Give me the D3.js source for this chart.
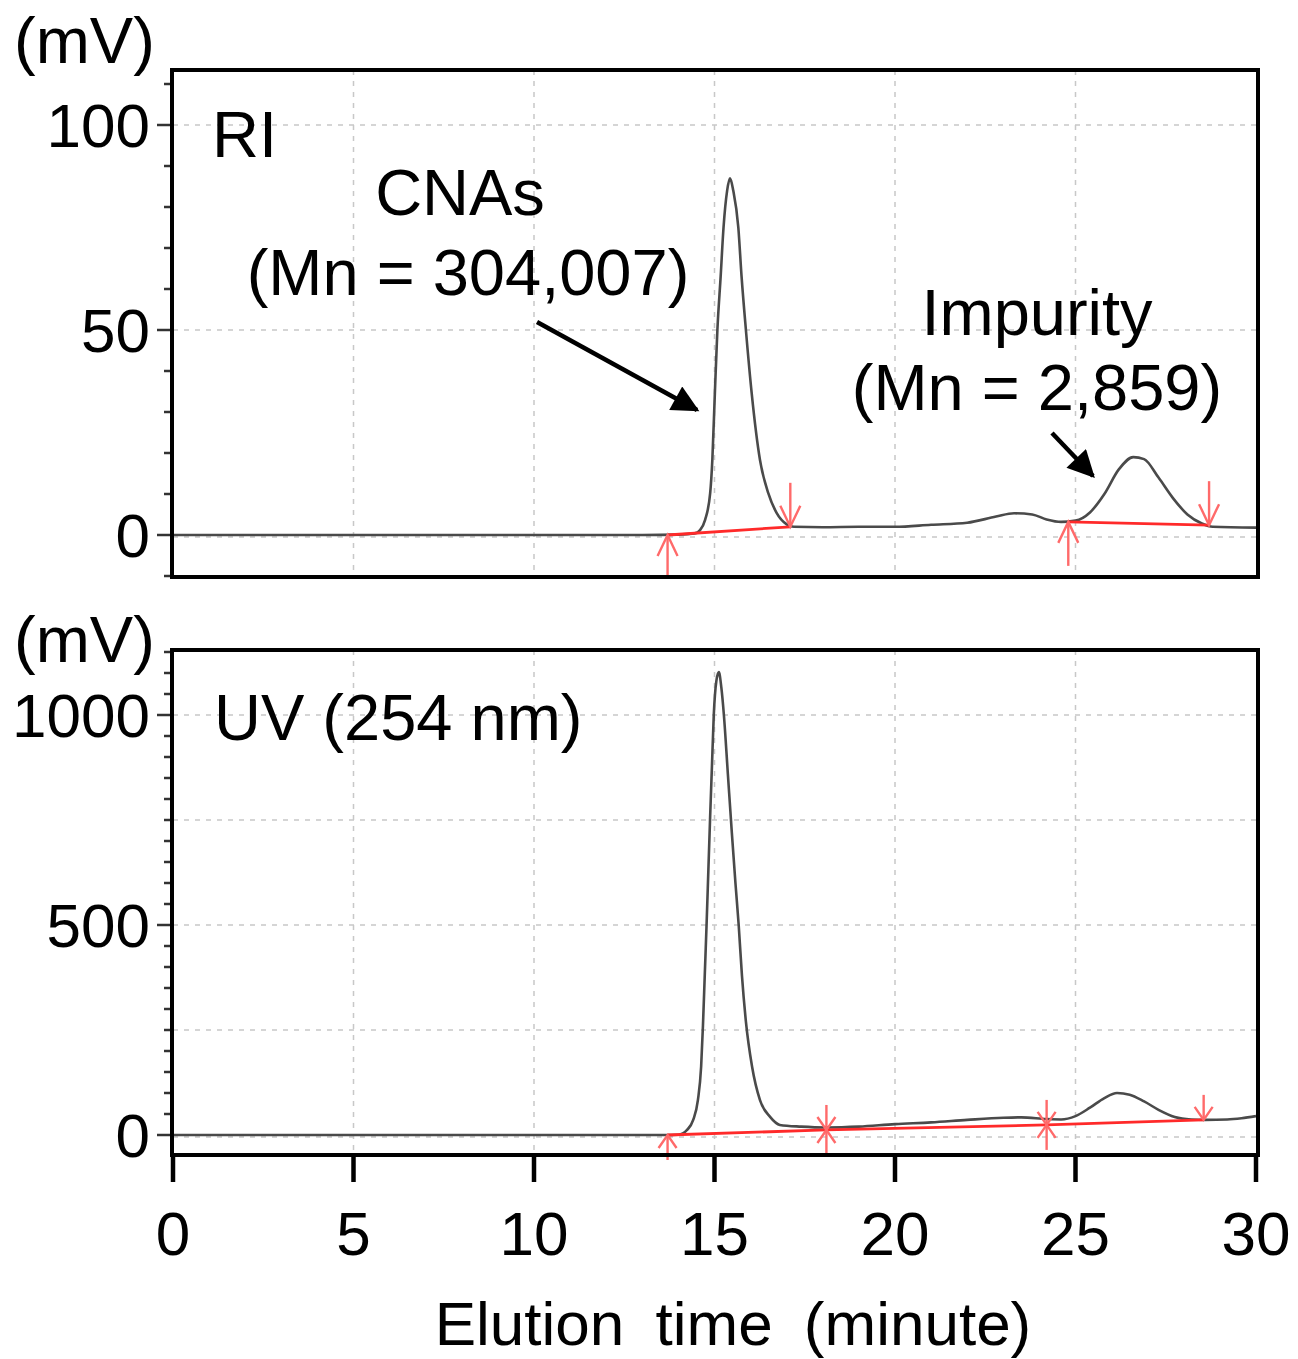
<!DOCTYPE html>
<html><head><meta charset="utf-8">
<script src="https://cdn.jsdelivr.net/npm/d3@7"></script>
<style>
html,body{margin:0;padding:0;background:#fff;}
svg{display:block;font-family:"Liberation Sans",Arial,sans-serif;}
</style></head>
<body><svg id="c" width="1298" height="1359"></svg>
<script>
// ---------- data ----------
const xTicks = [0,5,10,15,20,25,30];
const riMajorTicks = [0,50,100];
const uvMajorTicks = [0,500,1000];

// RI signal (minute, mV)
const riTime  = [0,13.0,14.0,14.45,14.6,14.74,14.88,14.94,15.01,15.08,15.17,15.25,15.35,15.43,15.52,15.66,15.75,15.87,16.03,16.26,16.49,16.72,17.0,17.2,18,19,20,21,22,22.8,23.3,23.8,24.2,24.6,25.0,25.4,25.8,26.2,26.6,26.9,27.3,27.7,28.1,28.5,28.8,30];
const riValue = [0,0,0.1,0.4,1.2,3.7,10.2,18.3,34.6,50,63,75,84,87,84,75,63,50,34.6,18.3,10.2,5.4,2.6,2.0,1.9,2,2,2.5,3,4.5,5.3,5,3.8,3.2,3.5,5.5,10,16,19,18.5,14,9,5,2.8,2,1.8];

// UV signal (minute, mV)
const uvTime  = [0,13.6,14.0,14.24,14.41,14.54,14.63,14.68,14.73,14.78,14.83,14.88,14.93,14.98,15.05,15.12,15.19,15.26,15.37,15.48,15.58,15.67,15.76,15.87,16.04,16.26,16.54,16.81,17.4,18.1,19,20,21,22,23,23.5,24.2,24.6,25.0,25.4,25.8,26.15,26.5,26.9,27.3,27.75,28.2,28.6,29.2,29.6,30];
const uvValue = [0,0,0.5,12,36,83,163,260,380,500,630,760,880,1000,1080,1102,1065,1000,860,720,600,500,380,270,163,83,43,24,20,18,20,26,30,36,41,42,38,37,45,65,88,100,96,80,60,43,37,36,37,40,45];

// integration baselines and markers
const riBaseTime  = [[13.7,17.1],[24.8,28.7]];
const riBaseValue = [[0,2.0],[3.2,2.4]];
const riMarkTime  = [13.7,17.1,24.8,28.7];
const riMarkValue = [0,2.0,3.2,2.4];
const riMarkType  = ["up","down","up","down"];

const uvBaseTime  = [[13.7,18.1,24.2,28.55]];
const uvBaseValue = [[0,12,24,36]];
const uvMarkTime  = [13.7,18.1,24.2,28.55];
const uvMarkValue = [0,12,24,36];
const uvMarkType  = ["up","both","both","down"];

// ---------- drawing ----------
const svg = d3.select("#c");
const FONT = 62, AFONT = 65;
const x = d3.scaleLinear().domain([0,30]).range([173,1256]);

const panels = [
  {name:"ri", y:d3.scaleLinear().domain([0,100]).range([535,125]), box:[70,577],
   minor:d3.range(-10,114,10), major:riMajorTicks, grid:[0,50,100],
   t:riTime, v:riValue, bt:riBaseTime, bv:riBaseValue, mt:riMarkTime, mv:riMarkValue, mk:riMarkType, mlen:44, marm:[10,21], unitY:63},
  {name:"uv", y:d3.scaleLinear().domain([0,1000]).range([1135,715]), box:[650,1155],
   minor:d3.range(-0,1160,50), major:uvMajorTicks, grid:[0,250,500,750,1000],
   t:uvTime, v:uvValue, bt:uvBaseTime, bv:uvBaseValue, mt:uvMarkTime, mv:uvMarkValue, mk:uvMarkType, mlen:25, marm:[9,13], unitY:662}
];

const defs = svg.append("defs");
defs.append("marker").attr("id","ah").attr("viewBox","0 0 10 10").attr("refX",9).attr("refY",5)
  .attr("markerWidth",7).attr("markerHeight",6).attr("markerUnits","strokeWidth").attr("orient","auto")
  .append("path").attr("d","M0,0 L10,5 L0,10 z").attr("fill","#000");

panels.forEach((p,i)=>{
  const g = svg.append("g");
  const [y0,y1] = p.box;
  defs.append("clipPath").attr("id","clip"+i).append("rect")
    .attr("x",173).attr("y",y0).attr("width",1083).attr("height",y1-y0);
  // grid
  g.selectAll(".vg").data(xTicks.slice(1,-1)).join("line")
    .attr("x1",d=>x(d)).attr("x2",d=>x(d)).attr("y1",y0).attr("y2",y1)
    .attr("stroke","#c8c8c8").attr("stroke-width",1.5).attr("stroke-dasharray","5,6");
  g.selectAll(".hg").data(p.grid).join("line")
    .attr("x1",173).attr("x2",1256).attr("y1",d=>p.y(d)+ (d===0?2:0)).attr("y2",d=>p.y(d)+(d===0?2:0))
    .attr("stroke","#c8c8c8").attr("stroke-width",1.5).attr("stroke-dasharray","5,6");
  // y ticks
  g.selectAll(".mt").data(p.minor.filter(d=>p.y(d)>y0 && p.y(d)<y1)).join("line")
    .attr("x1",d=>p.major.includes(d)?157:164).attr("x2",172).attr("y1",d=>p.y(d)).attr("y2",d=>p.y(d))
    .attr("stroke","#333").attr("stroke-width",2.5);
  g.selectAll(".yl").data(p.major).join("text")
    .attr("x",150).attr("y",d=>p.y(d)).attr("dy","0.36em").attr("text-anchor","end")
    .attr("font-size",FONT).text(d=>d);
  g.append("text").attr("x",14).attr("y",p.unitY).attr("font-size",AFONT).text("(mV)");
  const cg = g.append("g").attr("clip-path",`url(#clip${i})`);
  const line = d3.line().x(d=>x(d[0])).y(d=>p.y(d[1])).curve(d3.curveMonotoneX);
  cg.append("path").datum(d3.zip(p.t,p.v)).attr("d",line)
    .attr("fill","none").attr("stroke","#4a4a4a").attr("stroke-width",2.6).attr("stroke-linejoin","round");
  // red baselines
  p.bt.forEach((bt,j)=>{
    cg.append("path").datum(d3.zip(bt,p.bv[j])).attr("d",d3.line().x(d=>x(d[0])).y(d=>p.y(d[1])))
      .attr("fill","none").attr("stroke","#ff2a2a").attr("stroke-width",2.8);
  });
  // markers
  const [aw,ah] = p.marm;
  p.mt.forEach((t,j)=>{
    const cx = x(t), cy = p.y(p.mv[j]), type = p.mk[j];
    const mg = g.append("g").attr("stroke","#ff6a6a").attr("stroke-width",2.4).attr("fill","none");
    if(type==="up"||type==="both"){
      mg.append("line").attr("x1",cx).attr("x2",cx).attr("y1",cy).attr("y2",cy+p.mlen);
      mg.append("polyline").attr("points",`${cx-aw},${cy+ah} ${cx},${cy} ${cx+aw},${cy+ah}`);
    }
    if(type==="down"||type==="both"){
      mg.append("line").attr("x1",cx).attr("x2",cx).attr("y1",cy).attr("y2",cy-p.mlen);
      mg.append("polyline").attr("points",`${cx-aw},${cy-ah} ${cx},${cy} ${cx+aw},${cy-ah}`);
    }
  });
  // box
  g.append("rect").attr("x",172).attr("y",y0).attr("width",1086).attr("height",y1-y0)
    .attr("fill","none").attr("stroke","#000").attr("stroke-width",4);
});

// x axis ticks on bottom panel
const xb = svg.append("g");
xb.selectAll("line").data(xTicks).join("line")
  .attr("x1",d=>x(d)).attr("x2",d=>x(d)).attr("y1",1155).attr("y2",1182)
  .attr("stroke","#000").attr("stroke-width",4.5);
xb.selectAll("text").data(xTicks).join("text")
  .attr("x",d=>x(d)).attr("y",1255).attr("text-anchor","middle").attr("font-size",FONT).text(d=>d);
svg.append("text").attr("x",733).attr("y",1345).attr("text-anchor","middle")
  .attr("font-size",FONT).attr("word-spacing",14).text("Elution time (minute)");

// annotations
svg.append("text").attr("x",212).attr("y",157).attr("font-size",AFONT).text("RI");
svg.append("text").attr("x",460).attr("y",215).attr("text-anchor","middle").attr("font-size",AFONT).text("CNAs");
svg.append("text").attr("x",468).attr("y",295).attr("text-anchor","middle").attr("font-size",AFONT).text("(Mn = 304,007)");
svg.append("text").attr("x",1037).attr("y",335).attr("text-anchor","middle").attr("font-size",AFONT).text("Impurity");
svg.append("text").attr("x",1037).attr("y",410).attr("text-anchor","middle").attr("font-size",AFONT).text("(Mn = 2,859)");
svg.append("text").attr("x",214).attr("y",740).attr("font-size",AFONT).text("UV (254 nm)");

svg.append("line").attr("x1",537).attr("y1",322).attr("x2",697).attr("y2",410)
  .attr("stroke","#000").attr("stroke-width",4.5).attr("marker-end","url(#ah)");
svg.append("line").attr("x1",1052).attr("y1",433).attr("x2",1093).attr("y2",476)
  .attr("stroke","#000").attr("stroke-width",4.5).attr("marker-end","url(#ah)");
</script></body></html>
